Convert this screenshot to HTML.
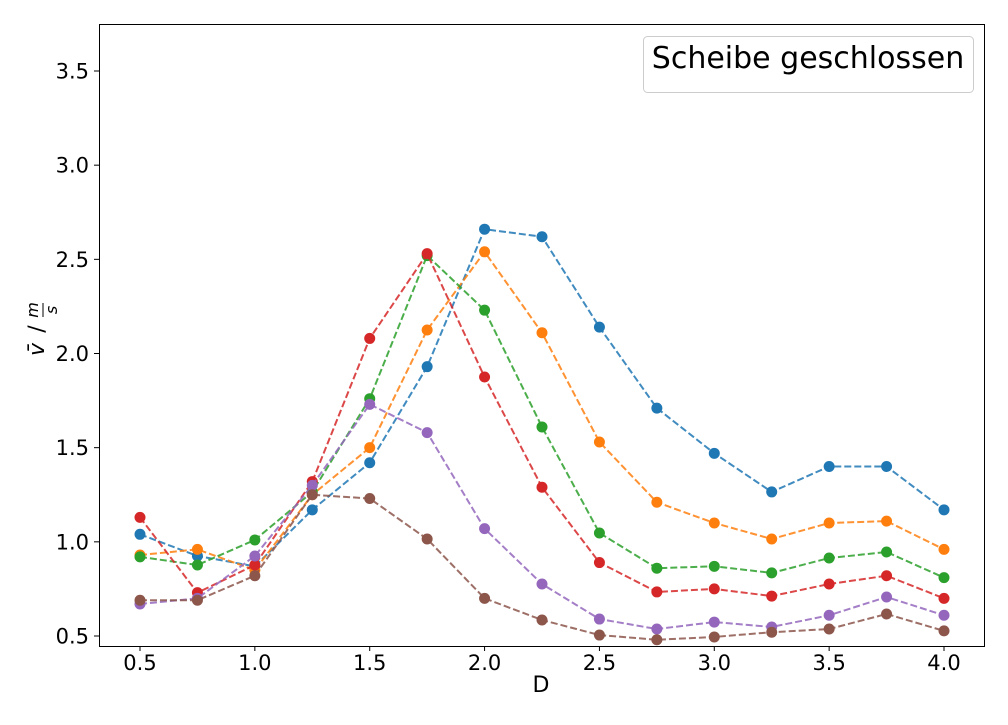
<!DOCTYPE html>
<html><head><meta charset="utf-8">
<style>
html,body{margin:0;padding:0;background:#fff;}
svg text{font-family:"DejaVu Sans","Liberation Sans",sans-serif;}
</style></head>
<body>
<svg id="chart" width="1008" height="720" xmlns="http://www.w3.org/2000/svg">
<rect x="0" y="0" width="1008" height="720" fill="#fff"/>
<g id="marks"></g>
<rect x="99.5" y="24.5" width="885" height="622" fill="none" stroke="#000" stroke-width="1"/>
<g id="axes"></g>
<text x="541" y="692" font-size="22" text-anchor="middle">D</text>
<g transform="translate(44,335) rotate(-90)">
<text x="-8" y="0" font-size="22" text-anchor="end" font-style="italic">v̄</text>
<text x="6" y="0" font-size="22" text-anchor="middle">/</text>
<text x="25" y="-6" font-size="16" text-anchor="middle" font-style="italic">m</text>
<line x1="18" y1="-1" x2="32" y2="-1" stroke="#000" stroke-width="1"/>
<text x="25" y="13" font-size="16" text-anchor="middle" font-style="italic">s</text>
</g>
<g>
<rect x="643.5" y="36.5" width="330" height="56" rx="4" fill="#fff" stroke="#ccc"/>
<text x="808" y="68" font-size="30" text-anchor="middle">Scheibe geschlossen</text>
</g>
</svg>
<script>
const xValues=[0.5,0.75,1.0,1.25,1.5,1.75,2.0,2.25,2.5,2.75,3.0,3.25,3.5,3.75,4.0];
const seriesBlue=[1.04,0.925,0.87,1.17,1.42,1.93,2.66,2.62,2.14,1.71,1.47,1.265,1.40,1.40,1.17];
const seriesOrange=[0.93,0.96,0.85,1.25,1.50,2.125,2.54,2.11,1.53,1.21,1.10,1.015,1.10,1.11,0.96];
const seriesGreen=[0.92,0.877,1.01,1.265,1.76,2.52,2.23,1.61,1.047,0.86,0.87,0.835,0.914,0.946,0.81];
const seriesRed=[1.13,0.73,0.877,1.32,2.08,2.53,1.875,1.29,0.89,0.734,0.75,0.712,0.776,0.82,0.70];
const seriesPurple=[0.67,0.70,0.925,1.30,1.73,1.58,1.07,0.776,0.59,0.537,0.574,0.548,0.61,0.707,0.61];
const seriesBrown=[0.69,0.69,0.82,1.25,1.23,1.015,0.70,0.585,0.505,0.48,0.495,0.52,0.537,0.617,0.527];
const xTicks=[0.5,1.0,1.5,2.0,2.5,3.0,3.5,4.0];
const yTicks=[0.5,1.0,1.5,2.0,2.5,3.0,3.5];
const seriesList=[
 {name:'blue',data:seriesBlue,color:'#1f77b4'},
 {name:'orange',data:seriesOrange,color:'#ff7f0e'},
 {name:'green',data:seriesGreen,color:'#2ca02c'},
 {name:'red',data:seriesRed,color:'#d62728'},
 {name:'purple',data:seriesPurple,color:'#9467bd'},
 {name:'brown',data:seriesBrown,color:'#8c564b'}];
const NS='http://www.w3.org/2000/svg';
const sx=v=>140+(v-0.5)*(944-140)/3.5;
const sy=v=>636-(v-0.5)*(636-71)/3.0;
const marks=document.getElementById('marks');
const axes=document.getElementById('axes');
seriesList.forEach(s=>{
 const g=document.createElementNS(NS,'g');
 
 
 const pl=document.createElementNS(NS,'polyline');
 
 
 pl.setAttribute('points',s.data.map((v,i)=>sx(xValues[i])+','+sy(v)).join(' '));
 pl.setAttribute('fill','none');pl.setAttribute('stroke',s.color);
 pl.setAttribute('stroke-width','2');pl.setAttribute('stroke-dasharray','7,3');
 pl.setAttribute('opacity','0.85');
 g.appendChild(pl);
 s.data.forEach((v,i)=>{
  const c=document.createElementNS(NS,'circle');
  
  
  c.setAttribute('cx',sx(xValues[i]));c.setAttribute('cy',sy(v));
  c.setAttribute('r','5.5');c.setAttribute('fill',s.color);
  g.appendChild(c);
 });
 marks.appendChild(g);
});
xTicks.forEach(t=>{
 const x=sx(t);
 const l=document.createElementNS(NS,'line');
 
 
 l.setAttribute('x1',x);l.setAttribute('x2',x);l.setAttribute('y1',646);l.setAttribute('y2',651);l.setAttribute('stroke','#000');
 axes.appendChild(l);
 const tx=document.createElementNS(NS,'text');
 
 
 tx.setAttribute('x',x);tx.setAttribute('y',670);tx.setAttribute('font-size','21');tx.setAttribute('text-anchor','middle');
 tx.textContent=t.toFixed(1);
 axes.appendChild(tx);
});
yTicks.forEach(t=>{
 const y=sy(t);
 const l=document.createElementNS(NS,'line');
 
 
 l.setAttribute('x1',94);l.setAttribute('x2',99);l.setAttribute('y1',y);l.setAttribute('y2',y);l.setAttribute('stroke','#000');
 axes.appendChild(l);
 const tx=document.createElementNS(NS,'text');
 
 
 tx.setAttribute('x',89);tx.setAttribute('y',y+7.5);tx.setAttribute('font-size','21');tx.setAttribute('text-anchor','end');
 tx.textContent=t.toFixed(1);
 axes.appendChild(tx);
});
</script>
</body></html>
